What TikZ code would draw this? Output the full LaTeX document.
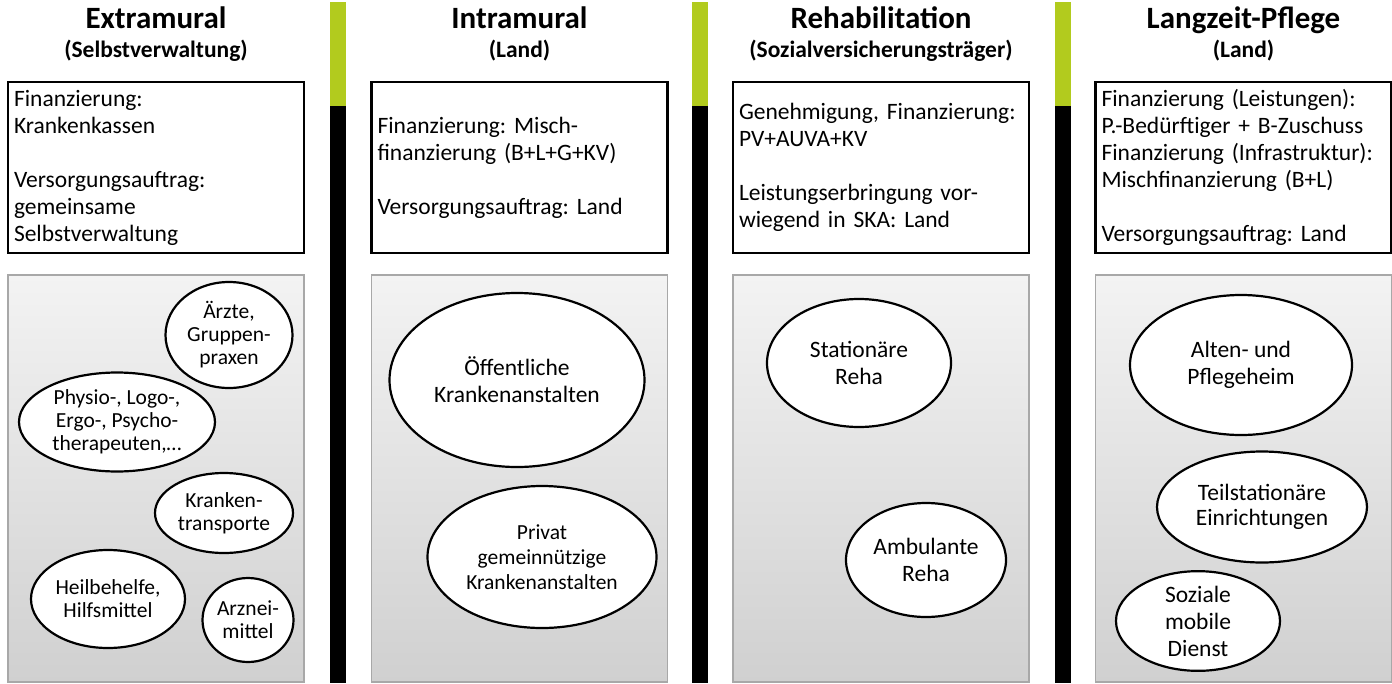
\documentclass[tikz,border=0pt]{standalone}
\usepackage{fontspec}
\setmainfont{Carlito}
\usetikzlibrary{shapes.geometric}
\definecolor{bargreen}{RGB}{178,203,30}
\definecolor{panelline}{RGB}{168,168,168}
\definecolor{paneltop}{RGB}{243,243,243}
\definecolor{panelbot}{RGB}{208,208,208}
\frenchspacing
\begin{document}
\begin{tikzpicture}
 [x=1pt,y=-1pt,
  head/.style={font=\fontsize{31}{36}\selectfont\bfseries,anchor=base,inner sep=0},
  subhead/.style={font=\fontsize{23.5}{27}\selectfont\bfseries,anchor=base,inner sep=0},
  info/.style={draw,line width=2.2pt,minimum width=296,minimum height=171,text width=284,
    inner xsep=6,inner ysep=0,align=left,font=\fontsize{23.5}{27}\selectfont},
  panel/.style={draw=panelline,line width=1.5pt,minimum width=296,minimum height=407,
    top color=paneltop,bottom color=panelbot,inner sep=0},
  bubble/.style={ellipse,draw,line width=2.2pt,fill=white,inner sep=0,align=center,
    font=\fontsize{23.5}{27}\selectfont},
  small/.style={font=\fontsize{21.5}{23}\selectfont}]
  \useasboundingbox (0,0) rectangle (1392,683);

  % column headings
  \node[head] (h1) at (156,28) {Extramural};
  \node[subhead] (s1) at (156,57.5) {(Selbstverwaltung)};
  \node[head] (h2) at (519.5,28) {Intramural};
  \node[subhead] (s2) at (519.5,57.5) {(Land)};
  \node[head] (h3) at (881,28) {Rehabilitation};
  \node[subhead] (s3) at (881,57.5) {(Sozialversicherungsträger)};
  \node[head] (h4) at (1243.5,28) {Langzeit-Pflege};
  \node[subhead] (s4) at (1243.5,57.5) {(Land)};

  % financing boxes
  \node[info] (i1) at (156,167.5) {Finanzierung:\\Krankenkassen\\[27pt]Versorgungsauftrag:\\gemeinsame\\Selbstverwaltung};
  \node[info] (i2) at (519.5,167.5) {Finanzierung: Misch-\\finanzierung (B+L+G+KV)\\[27pt]Versorgungsauftrag: Land};
  \node[info] (i3) at (881,167.5) {Genehmigung, Finanzierung:\\PV+AUVA+KV\\[27pt]Leistungserbringung vor-\\wiegend in SKA: Land};
  \node[info] (i4) at (1243.5,167.5) {Finanzierung (Leistungen):\\P.-Bedürftiger + B-Zuschuss\\Finanzierung (Infrastruktur):\\Mischfinanzierung (B+L)\\[27pt]Versorgungsauftrag: Land};

  % grey panels
  \node[panel] (p1) at (156,478.5) {};
  \node[panel] (p2) at (519.5,478.5) {};
  \node[panel] (p3) at (881,478.5) {};
  \node[panel] (p4) at (1243.5,478.5) {};

  % dividers
  \foreach \bx in {330,692,1055} {
    \fill[black] (\bx,106) rectangle ++(15.5,577);
    \fill[bargreen] (\bx,2) rectangle ++(15.5,104);
  }

  % extramural
  \node[bubble,small,minimum width=127,minimum height=106] (aerzte) at (229,335) {Ärzte,\\Gruppen-\\praxen};
  \node[bubble,small,minimum width=196,minimum height=99] (physio) at (117,422) {Physio-, Logo-,\\Ergo-, Psycho-\\therapeuten,…};
  \node[bubble,small,minimum width=138,minimum height=80] (transport) at (224,513) {Kranken-\\transporte};
  \node[bubble,small,minimum width=154,minimum height=98] (behelfe) at (108,599) {Heilbehelfe,\\Hilfsmittel};
  \node[bubble,small,minimum width=91,minimum height=84] (arznei) at (248,620) {Arznei-\\mittel};

  % intramural
  \node[bubble,minimum width=255,minimum height=174] (oeffentl) at (517,380) {Öffentliche\\Krankenanstalten};
  \node[bubble,font=\fontsize{21.5}{25}\selectfont,minimum width=229,minimum height=142] (privat) at (542,557) {Privat\\gemeinnützige\\Krankenanstalten};

  % rehabilitation
  \node[bubble,minimum width=184,minimum height=128] (stat) at (859,363) {Stationäre\\Reha};
  \node[bubble,minimum width=160,minimum height=114] (amb) at (926,560) {Ambulante\\Reha};

  % langzeit-pflege
  \node[bubble,minimum width=222,minimum height=140] (heim) at (1241,365) {Alten- und\\Pflegeheim};
  \node[bubble,font=\fontsize{23.5}{25}\selectfont,minimum width=210,minimum height=111] (teil) at (1262,507) {Teilstationäre\\Einrichtungen};
  \node[bubble,minimum width=164,minimum height=98] (mobil) at (1198,621) {Soziale\\mobile\\Dienst};
\end{tikzpicture}
\end{document}
